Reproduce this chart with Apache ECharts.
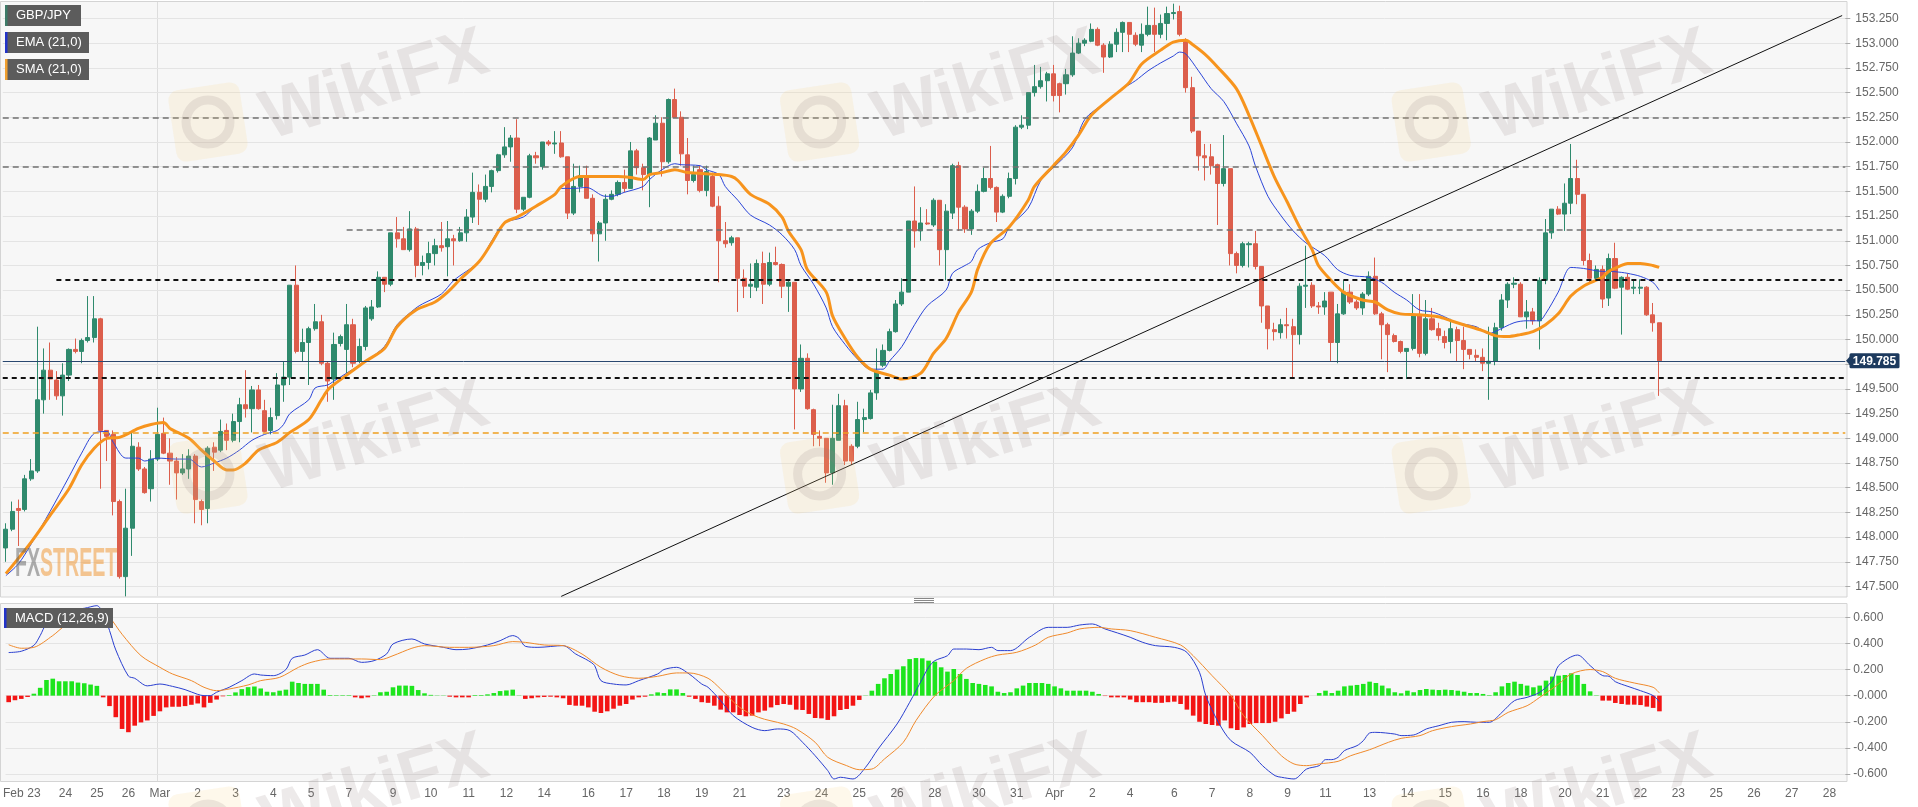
<!DOCTYPE html>
<html><head><meta charset="utf-8">
<script src="https://cdn.jsdelivr.net/npm/echarts/dist/echarts.min.js"></script>
<style>html,body{margin:0;padding:0;background:#fff}#c{width:1918px;height:807px}</style>
</head><body><div id="c"></div>
<script>
// ---------------- DATA ----------------
const slotCount = 292; // candle slots incl. empty future area
const opens = [
147.89,148.08,148.29,148.28,148.59,148.67,149.39,149.69,149.59,149.43,
149.64,149.90,149.88,149.99,150.02,150.21,149.08,149.04,148.36,147.60,
148.09,148.91,148.69,148.49,148.79,149.05,148.85,148.77,148.65,148.69,
148.82,148.36,148.29,148.91,148.88,149.08,148.98,149.17,149.34,149.30,
149.49,149.28,149.08,149.23,149.54,149.62,150.55,149.88,149.97,150.11,
150.18,149.76,149.60,149.96,149.90,150.15,149.78,149.93,150.21,150.33,
150.63,150.56,151.08,151.02,150.91,151.12,150.75,150.78,150.87,150.95,
150.94,151.02,151.00,151.08,151.24,151.49,151.42,151.55,151.71,151.87,
151.95,152.04,151.32,151.44,151.86,151.75,152.00,151.98,151.99,151.85,
151.28,151.55,151.65,151.43,151.07,151.18,151.42,151.47,151.59,151.53,
151.91,151.74,151.67,152.02,152.19,151.80,152.43,152.25,151.87,151.61,
151.72,151.51,151.65,151.35,151.00,150.98,151.03,150.62,150.54,150.53,
150.77,150.56,150.78,150.76,150.54,150.58,149.50,149.81,149.29,149.02,
149.00,148.65,148.98,149.33,148.92,148.92,149.19,149.20,149.46,149.74,
149.89,150.08,150.36,150.48,151.20,151.10,151.18,151.16,151.41,150.91,
151.28,151.76,151.34,151.12,151.30,151.50,151.63,151.54,151.29,151.45,
151.63,152.15,152.17,152.50,152.56,152.62,152.69,152.59,152.59,152.68,
152.90,153.00,153.02,153.14,152.98,152.86,152.99,153.11,153.21,153.08,
152.98,153.09,153.18,153.09,153.20,153.30,153.32,153.03,152.55,152.11,
151.86,151.85,151.77,151.58,151.73,150.87,150.75,150.96,150.97,150.74,
150.34,150.10,150.07,150.15,150.13,150.05,150.54,150.55,150.34,150.33,
150.48,149.97,150.26,150.48,150.38,150.32,150.46,150.64,150.26,150.15,
150.04,149.98,149.88,149.91,150.25,149.86,150.21,150.11,150.03,149.98,
150.10,149.99,149.90,149.84,149.82,149.76,149.78,150.12,150.40,150.56,
150.56,150.23,150.28,150.19,150.60,151.08,151.32,151.27,151.38,151.63,
151.47,150.80,150.62,150.71,150.42,150.82,150.53,150.63,150.52,150.52,
150.53,150.25,150.17];
const closes = [
148.08,148.26,148.27,148.59,148.67,149.39,149.69,149.60,149.43,149.64,
149.90,149.88,149.99,150.02,150.21,149.08,149.02,148.36,147.60,148.09,
148.92,148.69,148.45,148.79,149.04,148.85,148.77,148.65,148.69,148.82,
148.38,148.28,148.90,148.86,149.07,148.98,149.17,149.34,149.30,149.49,
149.30,149.07,149.21,149.54,149.62,150.55,149.88,149.97,150.11,150.18,
149.76,149.58,149.95,150.03,150.15,149.76,149.93,150.32,150.33,150.63,
150.56,151.08,151.02,150.91,151.12,150.75,150.78,150.87,150.95,150.93,
151.02,151.00,151.08,151.24,151.49,151.42,151.55,151.71,151.87,151.95,
152.04,151.32,151.44,151.86,151.84,152.00,151.98,151.99,151.85,151.28,
151.55,151.66,151.43,151.07,151.18,151.42,151.47,151.59,151.53,151.91,
151.74,151.67,152.04,152.19,151.80,152.43,152.25,151.88,151.61,151.67,
151.51,151.70,151.35,151.00,150.97,151.03,150.62,150.54,150.56,150.77,
150.56,150.78,150.76,150.54,150.58,149.50,149.81,149.30,149.04,149.00,
148.65,149.00,149.33,148.77,148.77,149.19,149.21,149.46,149.68,149.89,
150.08,150.36,150.48,151.20,151.10,151.18,151.17,151.41,150.91,151.30,
151.76,151.34,151.12,151.30,151.50,151.63,151.54,151.29,151.45,151.63,
152.15,152.17,152.50,152.56,152.62,152.69,152.47,152.47,152.68,152.90,
153.00,153.03,153.14,152.98,152.86,152.99,153.11,153.21,153.09,152.99,
153.09,153.18,153.09,153.20,153.30,153.31,153.09,152.55,152.11,151.86,
151.84,151.76,151.58,151.73,150.87,150.75,150.97,150.97,150.74,150.34,
150.11,150.08,150.15,150.14,150.05,150.54,150.55,150.34,150.33,150.39,
149.97,150.26,150.48,150.38,150.32,150.46,150.64,150.26,150.15,150.05,
149.98,149.88,149.91,150.25,149.86,150.21,150.10,150.04,149.97,150.11,
149.99,149.90,149.85,149.82,149.76,149.78,150.12,150.40,150.56,150.57,
150.23,150.28,150.19,150.60,151.08,151.32,151.27,151.38,151.63,151.47,
150.80,150.62,150.71,150.41,150.82,150.52,150.63,150.51,150.53,150.53,
150.25,150.17,149.785];
const lows = [
147.75,148.06,147.91,148.26,148.57,148.65,149.25,149.39,149.39,149.23,
149.58,149.86,149.76,149.97,149.97,148.49,148.77,148.22,147.58,147.40,
147.81,148.67,148.44,148.36,148.77,148.84,148.53,148.38,148.63,148.59,
148.14,148.12,148.14,148.67,148.86,148.88,148.96,148.96,149.21,149.06,
149.29,149.06,149.04,149.19,149.37,149.54,149.86,149.78,149.54,150.09,
149.74,149.37,149.39,149.93,149.66,149.72,149.76,149.89,150.19,150.32,
150.48,150.54,150.93,150.91,150.89,150.63,150.65,150.71,150.75,150.89,
150.64,150.75,150.99,150.99,151.18,151.16,151.39,151.49,151.69,151.84,
151.80,151.28,151.30,151.43,151.78,151.72,151.96,151.88,151.84,151.22,
151.26,151.49,151.43,150.99,150.79,151.00,151.41,151.45,151.49,151.53,
151.67,151.51,151.34,152.02,151.65,151.78,152.25,151.76,151.47,151.59,
151.49,151.45,151.34,150.58,150.93,150.95,150.28,150.42,150.42,150.49,
150.36,150.54,150.75,150.42,150.28,149.09,149.47,149.29,148.92,148.92,
148.55,148.53,148.98,148.73,148.73,148.90,149.06,149.19,149.39,149.72,
149.88,150.07,150.34,150.48,150.93,151.00,151.16,151.14,150.75,150.60,
151.22,151.10,151.08,151.06,151.28,151.49,151.52,151.19,151.28,151.43,
151.57,152.13,152.13,152.46,152.54,152.41,152.41,152.30,152.48,152.66,
152.89,152.97,153.01,152.97,152.70,152.85,152.91,152.91,152.91,152.97,
152.91,153.07,152.91,153.05,153.03,153.24,153.07,152.50,152.09,151.71,
151.61,151.67,151.16,151.55,150.75,150.67,150.73,150.73,150.71,150.17,
149.90,149.99,150.01,150.01,149.60,149.95,150.32,150.32,150.26,150.25,
149.78,149.76,150.25,150.36,150.30,150.25,150.44,150.25,149.80,149.67,
149.97,149.86,149.60,149.89,149.82,149.84,150.09,149.99,149.91,149.86,
149.78,149.70,149.80,149.78,149.68,149.39,149.74,150.09,150.32,150.52,
150.23,150.11,150.15,149.90,150.56,151.02,151.26,151.10,151.27,151.37,
150.75,150.58,150.60,150.32,150.34,150.51,150.05,150.50,150.46,150.46,
150.24,150.08,149.43];
const highs = [
148.14,148.36,148.38,148.63,148.79,150.13,149.91,149.97,149.68,149.76,
149.91,150.01,150.01,150.44,150.44,150.22,149.08,149.08,148.38,148.49,
149.06,148.96,148.71,148.88,149.31,149.21,149.00,148.81,148.84,148.89,
148.84,148.38,148.92,148.96,149.19,149.15,149.25,149.41,149.69,149.53,
149.54,149.39,149.31,149.66,149.78,150.55,150.75,150.11,150.13,150.36,
150.25,149.78,150.07,150.05,150.36,150.21,150.01,150.34,150.40,150.69,
150.63,151.08,151.24,151.14,151.30,151.14,150.85,150.99,151.02,151.19,
151.20,151.06,151.14,151.32,151.69,151.57,151.67,151.72,151.88,152.15,
152.07,152.23,151.44,151.88,151.90,152.00,152.02,152.11,152.11,151.85,
151.78,151.76,151.76,151.47,151.20,151.47,151.51,151.61,151.72,152.00,
151.93,151.78,152.05,152.27,152.25,152.44,152.54,152.31,152.04,151.76,
151.76,151.76,151.69,151.45,151.19,151.05,151.03,150.71,150.77,150.81,
150.89,150.88,150.94,150.77,150.60,150.58,149.95,149.86,149.30,149.08,
149.00,149.34,149.45,149.39,148.94,149.37,149.30,149.49,149.91,149.95,
150.11,150.40,150.62,151.20,151.55,151.34,151.32,151.43,151.41,151.37,
151.78,151.80,151.36,151.32,151.57,151.74,151.96,151.55,151.47,151.69,
152.17,152.27,152.50,152.78,152.76,152.71,152.78,152.60,152.74,153.07,
153.05,153.05,153.20,153.16,153.00,153.02,153.15,153.22,153.21,153.11,
153.20,153.37,153.36,153.29,153.37,153.40,153.38,153.05,152.66,152.11,
151.98,151.98,151.78,152.07,151.73,150.89,150.99,150.99,151.10,150.74,
150.34,150.17,150.21,150.32,150.21,150.57,150.95,150.58,150.38,150.48,
150.48,150.36,150.60,150.56,150.40,150.48,150.69,150.83,150.28,150.17,
150.06,149.99,149.91,150.46,150.46,150.40,150.32,150.17,150.09,150.21,
150.13,150.13,149.90,149.90,149.91,150.13,150.17,150.46,150.58,150.63,
150.58,150.40,150.32,150.63,151.22,151.32,151.35,151.58,151.98,151.82,
151.47,150.87,150.75,150.75,150.87,150.98,150.64,150.67,150.60,150.61,
150.54,150.37,150.17];

// EMA(21) and SMA(21) read at sample candles: [candle index, price]
const emaPoints = [[0,147.61],[2,147.73],[4,147.93],[7,148.26],[10,148.61],[12,148.85],[14,149.05],[16,149.07],[17,148.96],[19,148.80],[21,148.80],[22,148.77],[24,148.80],[27,148.79],[29,148.79],[31,148.71],[33,148.75],[35,148.80],[37,148.88],[39,148.98],[41,149.04],[43,149.08],[44,149.14],[45,149.25],[48,149.39],[49,149.51],[51,149.54],[52,149.58],[54,149.66],[57,149.78],[60,149.93],[62,150.15],[65,150.32],[66,150.36],[69,150.46],[71,150.60],[75,150.79],[77,151.00],[79,151.18],[82,151.24],[84,151.35],[87,151.47],[88,151.53],[90,151.53],[92,151.54],[95,151.45],[96,151.45],[98,151.49],[101,151.55],[102,151.62],[104,151.72],[106,151.78],[107,151.77],[110,151.76],[111,151.72],[113,151.67],[114,151.55],[116,151.41],[118,151.26],[121,151.16],[123,151.06],[125,150.91],[126,150.75],[128,150.56],[130,150.32],[131,150.13],[133,149.95],[135,149.80],[137,149.70],[139,149.70],[140,149.78],[142,149.93],[144,150.15],[146,150.34],[149,150.50],[150,150.67],[152,150.75],[153,150.79],[154,150.91],[156,150.98],[158,151.02],[159,151.14],[162,151.33],[164,151.61],[166,151.74],[169,151.94],[171,152.23],[174,152.39],[177,152.54],[179,152.62],[181,152.72],[183,152.80],[185,152.87],[186,152.91],[187,152.89],[189,152.72],[191,152.54],[193,152.41],[195,152.19],[197,151.96],[198,151.76],[200,151.45],[202,151.26],[204,151.10],[206,150.98],[209,150.85],[211,150.71],[213,150.65],[216,150.63],[218,150.58],[220,150.48],[222,150.40],[224,150.30],[226,150.28],[228,150.23],[230,150.17],[233,150.13],[235,150.06],[236,150.08],[239,150.17],[241,150.19],[243,150.19],[244,150.26],[246,150.48],[248,150.73],[250,150.72],[253,150.69],[254,150.69],[256,150.68],[257,150.67],[259,150.64],[261,150.58],[262,150.50]];
const smaPoints = [[0,147.63],[4,147.95],[7,148.22],[10,148.49],[12,148.73],[14,148.90],[16,149.00],[18,149.01],[21,149.10],[23,149.14],[25,149.16],[26,149.10],[29,149.00],[31,148.88],[33,148.77],[35,148.68],[36,148.68],[38,148.75],[40,148.88],[43,148.96],[45,149.06],[48,149.19],[50,149.39],[51,149.49],[52,149.545],[54,149.64],[57,149.78],[60,149.91],[62,150.13],[65,150.30],[68,150.38],[70,150.48],[72,150.61],[75,150.79],[77,150.98],[79,151.18],[81,151.24],[84,151.35],[87,151.47],[88,151.55],[91,151.65],[95,151.65],[97,151.65],[99,151.64],[101,151.62],[102,151.67],[104,151.69],[106,151.72],[108,151.69],[113,151.67],[115,151.65],[116,151.61],[118,151.47],[121,151.37],[123,151.24],[124,151.10],[126,150.91],[127,150.71],[130,150.48],[131,150.24],[133,150.01],[135,149.82],[137,149.70],[140,149.64],[142,149.60],[145,149.66],[147,149.86],[149,150.01],[151,150.28],[153,150.48],[154,150.71],[156,150.97],[159,151.14],[162,151.41],[163,151.55],[166,151.76],[168,151.90],[170,152.07],[172,152.27],[175,152.44],[178,152.60],[180,152.79],[183,152.93],[185,153.01],[187,153.03],[188,152.99],[190,152.89],[192,152.76],[195,152.54],[197,152.27],[199,151.96],[201,151.65],[203,151.40],[205,151.14],[207,150.91],[208,150.75],[210,150.60],[212,150.48],[215,150.40],[217,150.38],[219,150.30],[221,150.26],[224,150.25],[227,150.23],[229,150.19],[231,150.15],[234,150.09],[236,150.04],[238,150.03],[240,150.05],[242,150.08],[244,150.15],[246,150.26],[248,150.44],[250,150.54],[253,150.63],[254,150.69],[256,150.75],[257,150.77],[259,150.77],[261,150.75],[262,150.73]];

// trend line and horizontal levels
const trendLine = [[88,147.40],[291,153.28]];
const grayLevels = [152.25, 151.755];
const grayPartial = [54, 151.11];
const blackLevels = [149.61];
const blackPartial = [8, 150.61];
const orangeLevel = 149.065;
const lastPrice = 149.785;

// MACD (12,26,9)
const macdHist = [
-0.05,-0.035,-0.025,-0.01,0.015,0.06,0.12,0.13,0.11,0.11,
0.11,0.1,0.095,0.085,0.075,-0.013,-0.08,-0.165,-0.255,-0.28,
-0.23,-0.205,-0.19,-0.155,-0.12,-0.09,-0.085,-0.085,-0.08,-0.07,
-0.06,-0.09,-0.055,-0.03,-0.005,0.005,0.025,0.05,0.065,0.07,
0.055,0.03,0.026,0.038,0.046,0.107,0.097,0.09,0.09,0.09,
0.046,0.005,0.004,0.004,0.004,-0.013,-0.02,-0.013,0.003,0.026,
0.03,0.064,0.077,0.077,0.075,0.043,0.018,0.006,0.002,0.002,
-0.008,-0.013,-0.013,-0.013,0.005,0.005,0.01,0.02,0.035,0.04,
0.046,0.002,-0.025,-0.02,-0.013,-0.01,-0.008,-0.013,-0.02,-0.071,
-0.077,-0.077,-0.09,-0.123,-0.133,-0.12,-0.1,-0.077,-0.064,-0.03,
-0.013,-0.008,0.01,0.025,0.02,0.048,0.048,0.02,-0.008,-0.025,
-0.05,-0.055,-0.077,-0.107,-0.128,-0.128,-0.148,-0.158,-0.153,-0.128,
-0.115,-0.09,-0.072,-0.064,-0.07,-0.107,-0.11,-0.14,-0.171,-0.174,
-0.186,-0.158,-0.11,-0.102,-0.077,-0.033,0.002,0.038,0.09,0.133,
0.166,0.2,0.225,0.28,0.288,0.286,0.268,0.26,0.217,0.184,
0.204,0.166,0.128,0.097,0.09,0.082,0.071,0.03,0.02,0.026,
0.056,0.077,0.097,0.097,0.097,0.09,0.071,0.056,0.038,0.038,
0.038,0.038,0.03,0.013,-0.003,-0.013,-0.013,-0.013,-0.03,-0.05,
-0.05,-0.05,-0.055,-0.055,-0.05,-0.046,-0.064,-0.107,-0.153,-0.2,
-0.217,-0.225,-0.23,-0.19,-0.25,-0.263,-0.243,-0.217,-0.21,-0.21,
-0.21,-0.2,-0.174,-0.14,-0.123,-0.064,-0.013,0.0,0.02,0.038,
0.02,0.038,0.071,0.077,0.082,0.09,0.107,0.097,0.077,0.056,
0.026,0.018,0.038,0.026,0.043,0.051,0.046,0.043,0.046,0.043,
0.038,0.03,0.02,0.02,0.013,0.004,0.026,0.071,0.097,0.107,
0.09,0.077,0.064,0.077,0.115,0.146,0.153,0.158,0.171,0.158,
0.09,0.033,0.003,-0.038,-0.038,-0.056,-0.064,-0.069,-0.069,-0.072,
-0.084,-0.094,-0.12];
const macdPoints = [[0,0.33],[2,0.34],[4,0.385],[5,0.46],[6,0.55],[8,0.615],[9,0.65],[12,0.669],[14,0.689],[15,0.63],[16,0.5],[17,0.35],[19,0.15],[20,0.133],[22,0.075],[24,0.089],[26,0.071],[28,0.046],[30,0.01],[31,0],[32,0],[33,0.026],[35,0.064],[37,0.115],[39,0.166],[40,0.158],[42,0.153],[44,0.2],[45,0.286],[47,0.311],[49,0.352],[51,0.286],[54,0.286],[56,0.255],[58,0.268],[60,0.32],[61,0.396],[64,0.434],[66,0.396],[69,0.37],[71,0.352],[73,0.357],[76,0.388],[78,0.421],[80,0.46],[81,0.439],[82,0.378],[84,0.37],[88,0.383],[90,0.319],[92,0.268],[93,0.23],[94,0.115],[96,0.089],[98,0.082],[100,0.115],[103,0.166],[104,0.2],[106,0.217],[108,0.166],[110,0.089],[111,0.064],[113,-0.038],[115,-0.153],[118,-0.243],[120,-0.268],[122,-0.255],[124,-0.268],[126,-0.357],[128,-0.46],[130,-0.574],[131,-0.638],[132,-0.625],[134,-0.638],[136,-0.549],[138,-0.408],[141,-0.217],[143,-0.051],[145,0.128],[146,0.217],[147,0.268],[149,0.306],[150,0.357],[152,0.357],[154,0.352],[156,0.37],[157,0.345],[159,0.345],[162,0.447],[165,0.523],[168,0.523],[170,0.541],[172,0.549],[174,0.511],[176,0.48],[178,0.447],[180,0.408],[182,0.383],[185,0.37],[187,0.332],[189,0.179],[190,0],[192,-0.204],[194,-0.345],[197,-0.434],[199,-0.536],[201,-0.613],[202,-0.625],[204,-0.638],[206,-0.562],[208,-0.536],[209,-0.49],[210,-0.49],[211,-0.472],[212,-0.421],[214,-0.383],[215,-0.345],[216,-0.286],[217,-0.281],[220,-0.294],[221,-0.306],[223,-0.301],[224,-0.281],[225,-0.255],[227,-0.23],[229,-0.204],[231,-0.199],[233,-0.204],[235,-0.204],[237,-0.128],[239,-0.038],[241,-0.013],[243,0.026],[245,0.115],[246,0.23],[249,0.311],[251,0.23],[253,0.153],[254,0.148],[255,0.107],[257,0.071],[259,0.038],[261,0],[262,-0.046]];
const signalPoints = [[0,0.39],[2,0.363],[4,0.37],[7,0.46],[9,0.536],[12,0.587],[15,0.625],[16,0.6],[18,0.47],[21,0.306],[24,0.217],[26,0.166],[29,0.115],[31,0.064],[33,0.038],[35,0.051],[38,0.082],[40,0.115],[43,0.14],[46,0.217],[48,0.255],[51,0.281],[54,0.281],[56,0.281],[59,0.276],[61,0.306],[64,0.363],[66,0.383],[70,0.37],[73,0.37],[77,0.383],[80,0.414],[82,0.408],[85,0.388],[88,0.383],[91,0.319],[94,0.217],[97,0.153],[100,0.133],[103,0.148],[106,0.174],[108,0.174],[111,0.133],[113,0.051],[116,-0.089],[119,-0.166],[123,-0.217],[125,-0.255],[128,-0.357],[130,-0.472],[133,-0.536],[135,-0.567],[137,-0.562],[139,-0.485],[142,-0.357],[144,-0.191],[147,0],[150,0.115],[152,0.209],[155,0.281],[157,0.311],[160,0.332],[163,0.388],[165,0.447],[168,0.48],[170,0.511],[173,0.523],[175,0.511],[178,0.498],[182,0.447],[186,0.388],[188,0.306],[191,0.153],[194,0],[196,-0.153],[199,-0.306],[202,-0.46],[204,-0.523],[206,-0.536],[208,-0.523],[211,-0.503],[213,-0.46],[216,-0.414],[219,-0.357],[221,-0.327],[224,-0.306],[226,-0.268],[229,-0.237],[232,-0.217],[234,-0.199],[236,-0.184],[238,-0.128],[241,-0.077],[243,-0.013],[246,0.089],[248,0.166],[251,0.2],[253,0.184],[255,0.133],[258,0.097],[261,0.064],[262,0.02]];

// x-axis tick labels (slot index -> text)
const tickIndex = [0,4,9,14,19,24,30,36,42,48,54,61,67,73,79,85,92,98,104,110,116,123,129,135,141,147,154,160,166,172,178,185,191,197,203,209,216,222,228,234,240,247,253,259,265,271,277,283,289];
const tickText = ['Feb','23','24','25','26','Mar','2','3','4','5','7','9','10','11','12','14','16','17','18','19','21','23','24','25','26','28','30','31','Apr','2','4','6','7','8','9','11','13','14','15','16','18','20','21','22','23','25','26','27','28'];
const monthLines = [24, 166];

// ---------------- CHART ----------------
const labelMap = {};
tickIndex.forEach((k, i) => { labelMap[k] = tickText[i]; });
const cats = Array.from({length: slotCount}, (_, i) => String(i));
const candleData = opens.map((o, i) => [o, closes[i], lows[i], highs[i]]);

const UP = '#2f8a6d', DOWN = '#dc5e4c';
const FONT = 'Arial, "Liberation Sans", sans-serif';
const gridL = 2.75, gridR = 72.7;

const chart = echarts.init(document.getElementById('c'), null, {renderer: 'canvas'});

const grayStyle = {color: '#707070', width: 1.5, type: [6, 4]};
const blackStyle = {color: '#111', width: 2, type: [5, 4]};
const levelData = [];
grayLevels.forEach(v => levelData.push({yAxis: v, lineStyle: grayStyle}));
levelData.push([{coord: [grayPartial[0], grayPartial[1]], lineStyle: grayStyle}, {coord: [slotCount - 1, grayPartial[1]]}]);
levelData.push([{coord: [blackPartial[0], blackPartial[1]], lineStyle: blackStyle}, {coord: [slotCount - 1, blackPartial[1]]}]);
blackLevels.forEach(v => levelData.push({yAxis: v, lineStyle: blackStyle}));
levelData.push({yAxis: orangeLevel, lineStyle: {color: '#f0a020', width: 1.5, type: [6, 4]}});
levelData.push({yAxis: lastPrice, lineStyle: {color: '#2a4870', width: 1, type: 'solid'}});

const option = {
  animation: false,
  backgroundColor: '#ffffff',
  grid: [
    {left: gridL, right: gridR, top: 18.5, bottom: 220.5},
    {left: gridL, right: gridR, top: 617.3, bottom: 33}
  ],
  xAxis: [
    {type: 'category', gridIndex: 0, data: cats, boundaryGap: true,
     axisLine: {show: false}, axisTick: {show: false}, axisLabel: {show: false}, splitLine: {show: false}},
    {type: 'category', gridIndex: 1, data: cats, boundaryGap: true,
     axisLine: {show: false}, axisTick: {show: false}, splitLine: {show: false},
     axisLabel: {show: true, interval: 0, margin: 14, color: '#666', fontSize: 12, fontFamily: FONT,
       formatter: (v, idx) => { const t = labelMap[idx]; if (!t) return ''; return idx === 0 ? '{f|' + t + '}' : t; },
       rich: {f: {width: 30, align: 'right', color: '#666', fontSize: 12, fontFamily: FONT}}}}
  ],
  yAxis: [
    {type: 'value', gridIndex: 0, position: 'right', min: 147.5, max: 153.25, interval: 0.25,
     axisLine: {show: false}, axisTick: {show: true, length: 5, lineStyle: {color: '#aaa'}},
     axisLabel: {margin: 10, color: '#666', fontSize: 12, fontFamily: FONT, formatter: v => v.toFixed(3)},
     splitLine: {show: true, lineStyle: {color: '#e4e4e4', width: 1}}},
    {type: 'value', gridIndex: 1, position: 'right', min: -0.6, max: 0.6, interval: 0.2,
     axisLine: {show: false}, axisTick: {show: true, length: 5, lineStyle: {color: '#aaa'}},
     axisLabel: {margin: 8, color: '#666', fontSize: 12, fontFamily: FONT,
       formatter: v => Math.abs(v) < 1e-9 ? '-0.000' : v.toFixed(3)},
     splitLine: {show: true, lineStyle: {color: '#e4e4e4', width: 1}}}
  ],
  series: [
    {type: 'candlestick', xAxisIndex: 0, yAxisIndex: 0, data: candleData, barWidth: 4.6, clip: false,
     itemStyle: {color: UP, color0: DOWN, borderColor: UP, borderColor0: DOWN, borderWidth: 1},
     markLine: {silent: true, symbol: ['none', 'none'], label: {show: false}, animation: false, data: levelData}},
    {type: 'line', name: 'EMA (21,0)', xAxisIndex: 0, yAxisIndex: 0, data: emaPoints, showSymbol: false, smooth: 0.3,
     lineStyle: {color: '#2b45d8', width: 1}, z: 3},
    {type: 'line', name: 'SMA (21,0)', xAxisIndex: 0, yAxisIndex: 0, data: smaPoints, showSymbol: false, smooth: 0.3,
     lineStyle: {color: '#f7941d', width: 3}, z: 4},
    {type: 'line', xAxisIndex: 0, yAxisIndex: 0, data: trendLine, showSymbol: false, clip: false,
     lineStyle: {color: '#111', width: 1}, z: 5},
    {type: 'bar', xAxisIndex: 1, yAxisIndex: 1, data: macdHist, barWidth: 4.6,
     itemStyle: {color: p => p.value >= 0 ? '#1de51d' : '#f31414'}},
    {type: 'line', xAxisIndex: 1, yAxisIndex: 1, data: macdPoints, showSymbol: false, smooth: 0.3, clip: false,
     lineStyle: {color: '#2a3fd0', width: 1}, z: 3},
    {type: 'line', xAxisIndex: 1, yAxisIndex: 1, data: signalPoints, showSymbol: false, smooth: 0.3, clip: false,
     lineStyle: {color: '#f08a2c', width: 1}, z: 3}
  ]
};
chart.setOption(option);

// ---------------- DECORATION ----------------
const g = [];
const PANEL_R = 1847;
g.push({type: 'rect', z: -10, silent: true, shape: {x: 0.5, y: 1.5, width: PANEL_R - 0.5, height: 595.5},
  style: {fill: '#f7f7f7', stroke: '#d4d4d4', lineWidth: 1}});
g.push({type: 'rect', z: -10, silent: true, shape: {x: 0.5, y: 603.5, width: PANEL_R - 0.5, height: 178},
  style: {fill: '#f7f7f7', stroke: '#d4d4d4', lineWidth: 1}});
monthLines.forEach(k => {
  const x = Math.round(chart.convertToPixel({xAxisIndex: 0}, k)) + 0.5;
  g.push({type: 'line', z: -5, silent: true, shape: {x1: x, y1: 2, x2: x, y2: 596}, style: {stroke: '#dddddd', lineWidth: 1}});
  g.push({type: 'line', z: -5, silent: true, shape: {x1: x, y1: 604, x2: x, y2: 781}, style: {stroke: '#dddddd', lineWidth: 1}});
});
// splitter handle
[598, 600, 602].forEach(y => g.push({type: 'line', silent: true, z: 5, shape: {x1: 914, y1: y + 0.5, x2: 934, y2: y + 0.5}, style: {stroke: '#888', lineWidth: 1}}));

// legend boxes
function legendBox(x, y, w, h, stripe, text) {
  g.push({type: 'rect', z: 60, silent: true, shape: {x: x, y: y, width: w, height: h}, style: {fill: '#5c5c5c'}});
  g.push({type: 'rect', z: 61, silent: true, shape: {x: x, y: y, width: 2.5, height: h}, style: {fill: stripe}});
  g.push({type: 'text', z: 62, silent: true, x: x + 11, y: y + h / 2,
    style: {text: text, fill: '#fff', font: '13px ' + FONT, textVerticalAlign: 'middle', textAlign: 'left'}});
}
legendBox(5, 5, 76, 21, '#3d7b68', 'GBP/JPY');
legendBox(5, 32, 84, 21, '#2233c8', 'EMA (21,0)');
legendBox(5, 59, 84, 21, '#f0a030', 'SMA (21,0)');
legendBox(4, 608, 109, 20, '#2233c8', 'MACD (12,26,9)');

// last price tag
const py = chart.convertToPixel({yAxisIndex: 0}, lastPrice);
g.push({type: 'polygon', z: 70, silent: true, shape: {points: [[1846, py], [1850, py - 4.5], [1850, py + 4.5]]}, style: {fill: '#1d3a5e'}});
g.push({type: 'rect', z: 70, silent: true, shape: {x: 1849.5, y: py - 7.5, width: 50, height: 15, r: 1.5}, style: {fill: '#1d3a5e'}});
g.push({type: 'text', z: 71, silent: true, x: 1874.5, y: py + 0.5,
  style: {text: lastPrice.toFixed(3), fill: '#fff', font: 'bold 12px ' + FONT, textAlign: 'center', textVerticalAlign: 'middle'}});

// watermarks
for (let r = 0; r < 3; r++) {
  for (let c = 0; c < 3; c++) {
    const lx = 208 + 611.6 * c, ly = 122 + 352 * r;
    const tx = 375 + 611.6 * c, ty = 87 + 352 * r;
    g.push({type: 'rect', z: 90, silent: true, x: lx, y: ly, rotation: 0.15, originX: 0, originY: 0,
      shape: {x: -36, y: -36, width: 72, height: 72, r: 10}, style: {fill: 'rgba(250,210,130,0.16)'}});
    g.push({type: 'circle', z: 91, silent: true, shape: {cx: lx, cy: ly, r: 22},
      style: {fill: 'none', stroke: 'rgba(140,125,125,0.16)', lineWidth: 9}});
    g.push({type: 'text', z: 92, silent: true, x: tx, y: ty, rotation: 0.3,
      style: {text: 'WikiFX', fill: 'rgba(150,128,128,0.17)', font: 'bold 70px ' + FONT, textAlign: 'center', textVerticalAlign: 'middle'}});
  }
}
// FXSTREET mark
g.push({type: 'text', z: 50, silent: true, x: 15, y: 565, scaleX: 0.49,
  style: {text: 'FX', fill: 'rgba(110,110,110,0.55)', font: 'bold 40px ' + FONT, textAlign: 'left', textVerticalAlign: 'middle'}});
g.push({type: 'text', z: 50, silent: true, x: 40, y: 565, scaleX: 0.49,
  style: {text: 'STREET', fill: 'rgba(240,155,60,0.55)', font: 'bold 40px ' + FONT, textAlign: 'left', textVerticalAlign: 'middle'}});

chart.setOption({graphic: g});
</script></body></html>
